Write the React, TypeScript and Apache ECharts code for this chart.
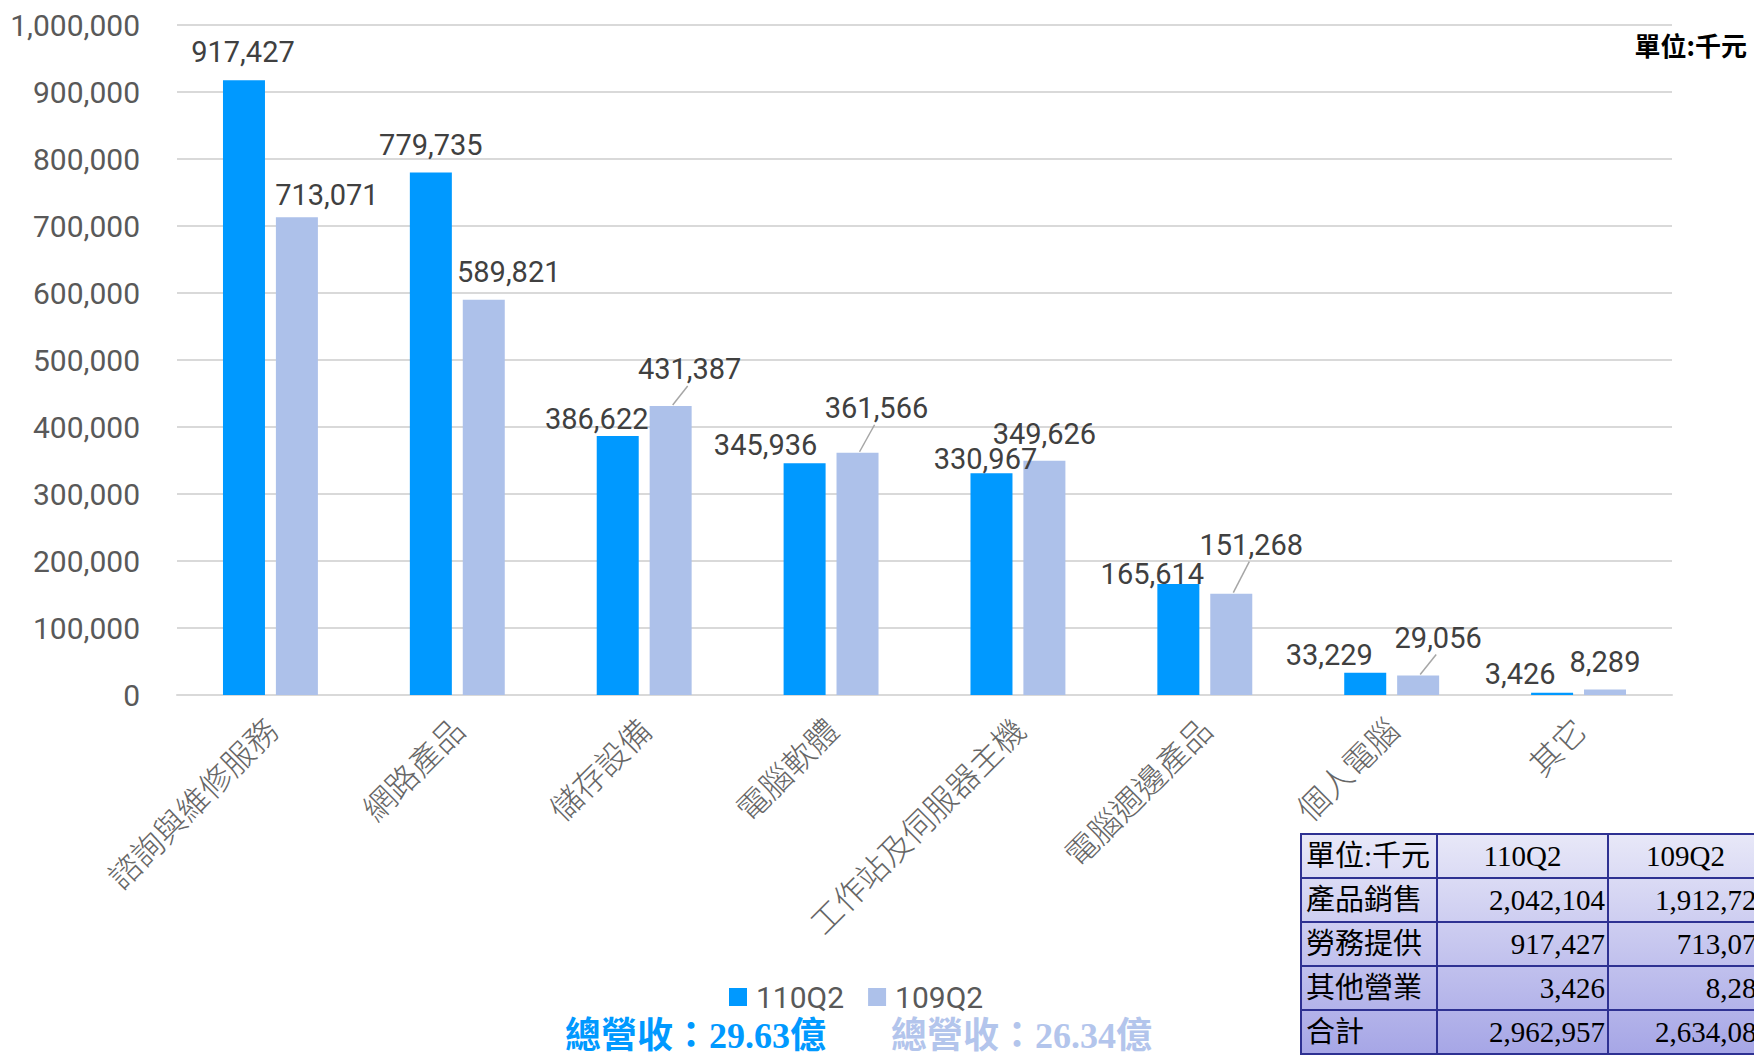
import React, { useEffect, useRef } from "react";
import * as echarts from "echarts";

const categories = ["諮詢與維修服務", "網路產品", "儲存設備", "電腦軟體", "工作站及伺服器主機", "電腦週邊產品", "個人電腦", "其它"];
const seriesNames = ["110Q2", "109Q2"];
const q110 = [917427, 779735, 386622, 345936, 330967, 165614, 33229, 3426];
const q109 = [713071, 589821, 431387, 361566, 349626, 151268, 29056, 8289];
const yMin = 0;
const yMax = 1000000;
const yStep = 100000;

// label nudges (styling) per bar: [dx, dy]
const shift110 = [[-1, -9], [0, -8], [-21, 3], [-39, 1], [-6, 5], [-26, 9], [-36, 2], [-32, 1]];
const shift109 = [[30, -3], [25, -8], [19, -17], [19, -25], [0, -7], [20, -29], [20, -18], [0, -8]];
const leader109 = [false, false, true, true, false, true, true, false];

const tableHeader = ["單位:千元", "110Q2", "109Q2"];
const tableRowNames = ["產品銷售", "勞務提供", "其他營業", "合計"];
const table110 = [2042104, 917427, 3426, 2962957];
const table109 = [1912724, 713071, 8289, 2634084];
const total110 = "總營收：29.63億";
const total109 = "總營收：26.34億";
const unitText = "單位:千元";

const BLUE = "#0099FF";
const LIGHT = "#ADC1EA";
const fmt = (v: number) => v.toLocaleString("en-US");
const SANS = "Roboto, 'Noto Sans CJK TC', sans-serif";
const SERIF = "'Liberation Serif', 'Noto Sans CJK TC', serif";
const BAR_W = 42;
const BAR_OFFSET = 26.5; // centre of second bar relative to category centre

export default function App() {
  const ref = useRef<HTMLDivElement>(null);
  useEffect(() => {
    if (!ref.current) return;
    document.body.style.margin = "0";
    const chart = echarts.init(ref.current, null, { renderer: "svg" });

    // table geometry
    const tx = [1301, 1437, 1608, 1779];
    const ty0 = 834;
    const rh = 44;
    const nRows = tableRowNames.length + 1;
    const tableEls: any[] = [];
    tableEls.push({
      type: "rect",
      shape: { x: tx[0], y: ty0, width: tx[3] - tx[0], height: rh * nRows },
      style: {
        fill: {
          type: "linear", x: 0, y: 0, x2: 0, y2: 1,
          colorStops: [{ offset: 0, color: "#E8E8F8" }, { offset: 1, color: "#A6A6E6" }],
        },
        stroke: "#2E3192",
        lineWidth: 2,
      },
    });
    for (let r = 1; r < nRows; r++) {
      tableEls.push({
        type: "line",
        shape: { x1: tx[0], y1: ty0 + r * rh, x2: tx[3], y2: ty0 + r * rh },
        style: { stroke: "#2E3192", lineWidth: 2 },
      });
    }
    for (let c = 1; c < 3; c++) {
      tableEls.push({
        type: "line",
        shape: { x1: tx[c], y1: ty0, x2: tx[c], y2: ty0 + rh * nRows },
        style: { stroke: "#2E3192", lineWidth: 2 },
      });
    }
    const cellText = (text: string, x: number, y: number, align: string) => ({
      type: "text",
      x, y,
      style: { text, fill: "#000", font: `29px ${SERIF}`, align, verticalAlign: "middle" },
    });
    tableEls.push(cellText(tableHeader[0], tx[0] + 5, ty0 + rh / 2, "left"));
    tableEls.push(cellText(tableHeader[1], (tx[1] + tx[2]) / 2, ty0 + rh / 2, "center"));
    tableEls.push(cellText(tableHeader[2], (tx[2] + tx[3]) / 2 - 8, ty0 + rh / 2, "center"));
    tableRowNames.forEach((name, i) => {
      const yc = ty0 + rh * (i + 1) + rh / 2;
      tableEls.push(cellText(name, tx[0] + 5, yc, "left"));
      tableEls.push(cellText(fmt(table110[i]), tx[2] - 3, yc, "right"));
      tableEls.push(cellText(fmt(table109[i]), tx[3] - 8, yc, "right"));
    });

    const labelCfg = {
      show: true,
      position: "top",
      distance: 5,
      fontSize: 29,
      color: "#404040",
      fontFamily: SANS,
      formatter: (p: any) => fmt(p.value),
    };

    const leaderData = q109
      .map((v, i) => [i, v])
      .filter((_, i) => leader109[i]);

    chart.setOption({
      animation: false,
      grid: { left: 177, right: 82, top: 25, bottom: 361, containLabel: false },
      legend: {
        data: seriesNames,
        left: 724,
        top: 977,
        icon: "rect",
        itemWidth: 18,
        itemHeight: 18,
        itemGap: 24,
        textStyle: { fontSize: 30, color: "#595959", fontFamily: SANS, padding: [0, 0, 0, 4] },
      },
      xAxis: {
        type: "category",
        data: categories,
        axisLine: { lineStyle: { color: "#D9D9D9", width: 2 } },
        axisTick: { show: false },
        axisLabel: {
          interval: 0,
          rotate: 45,
          margin: 28,
          fontSize: 32,
          color: "#666666",
          fontWeight: 300,
          fontFamily: "'Noto Sans CJK TC', sans-serif",
        },
      },
      yAxis: {
        type: "value",
        min: yMin,
        max: yMax,
        interval: yStep,
        axisLine: { show: false },
        axisTick: { show: false },
        splitLine: { lineStyle: { color: "#D9D9D9", width: 2 } },
        axisLabel: {
          margin: 37,
          fontSize: 30,
          color: "#595959",
          fontFamily: SANS,
          formatter: (v: number) => fmt(v),
        },
      },
      series: [
        {
          name: seriesNames[0],
          type: "bar",
          barWidth: BAR_W,
          barGap: "26%",
          itemStyle: { color: BLUE },
          data: q110,
          label: labelCfg,
          labelLayout: (p: any) => ({ dx: shift110[p.dataIndex][0], dy: shift110[p.dataIndex][1] }),
        },
        {
          name: seriesNames[1],
          type: "bar",
          barWidth: BAR_W,
          barGap: "26%",
          itemStyle: { color: LIGHT },
          data: q109,
          label: labelCfg,
          labelLayout: (p: any) => ({ dx: shift109[p.dataIndex][0], dy: shift109[p.dataIndex][1] }),
        },
        {
          type: "custom",
          silent: true,
          z: 5,
          data: leaderData,
          encode: { x: 0, y: 1 },
          renderItem: (params: any, api: any) => {
            const idx = api.value(0);
            const p = api.coord([idx, api.value(1)]);
            const s = shift109[idx];
            const x0 = p[0] + BAR_OFFSET + 2;
            const y0 = p[1] - 1;
            const x1 = p[0] + BAR_OFFSET + s[0] - 2;
            const y1 = p[1] - 5 + s[1] + 2;
            return {
              type: "line",
              shape: { x1: x0, y1: y0, x2: x1, y2: y1 },
              style: { stroke: "#A6A6A6", lineWidth: 1.5 },
            };
          },
        },
      ],
      graphic: [
        {
          type: "text",
          right: 7,
          top: 31,
          style: { text: unitText, fill: "#000", font: `bold 26px 'Noto Sans CJK TC', sans-serif` },
        },
        {
          type: "text",
          x: 565,
          y: 1036,
          style: { text: total110, fill: BLUE, font: `bold 36px ${SERIF}`, verticalAlign: "middle" },
        },
        {
          type: "text",
          x: 891,
          y: 1036,
          style: { text: total109, fill: "#B3C5EC", font: `bold 36px ${SERIF}`, verticalAlign: "middle" },
        },
        ...tableEls,
      ],
    });
    return () => chart.dispose();
  }, []);
  return <div ref={ref} style={{ position: "absolute", left: 0, top: 0, width: 1754, height: 1056 }} />;
}
